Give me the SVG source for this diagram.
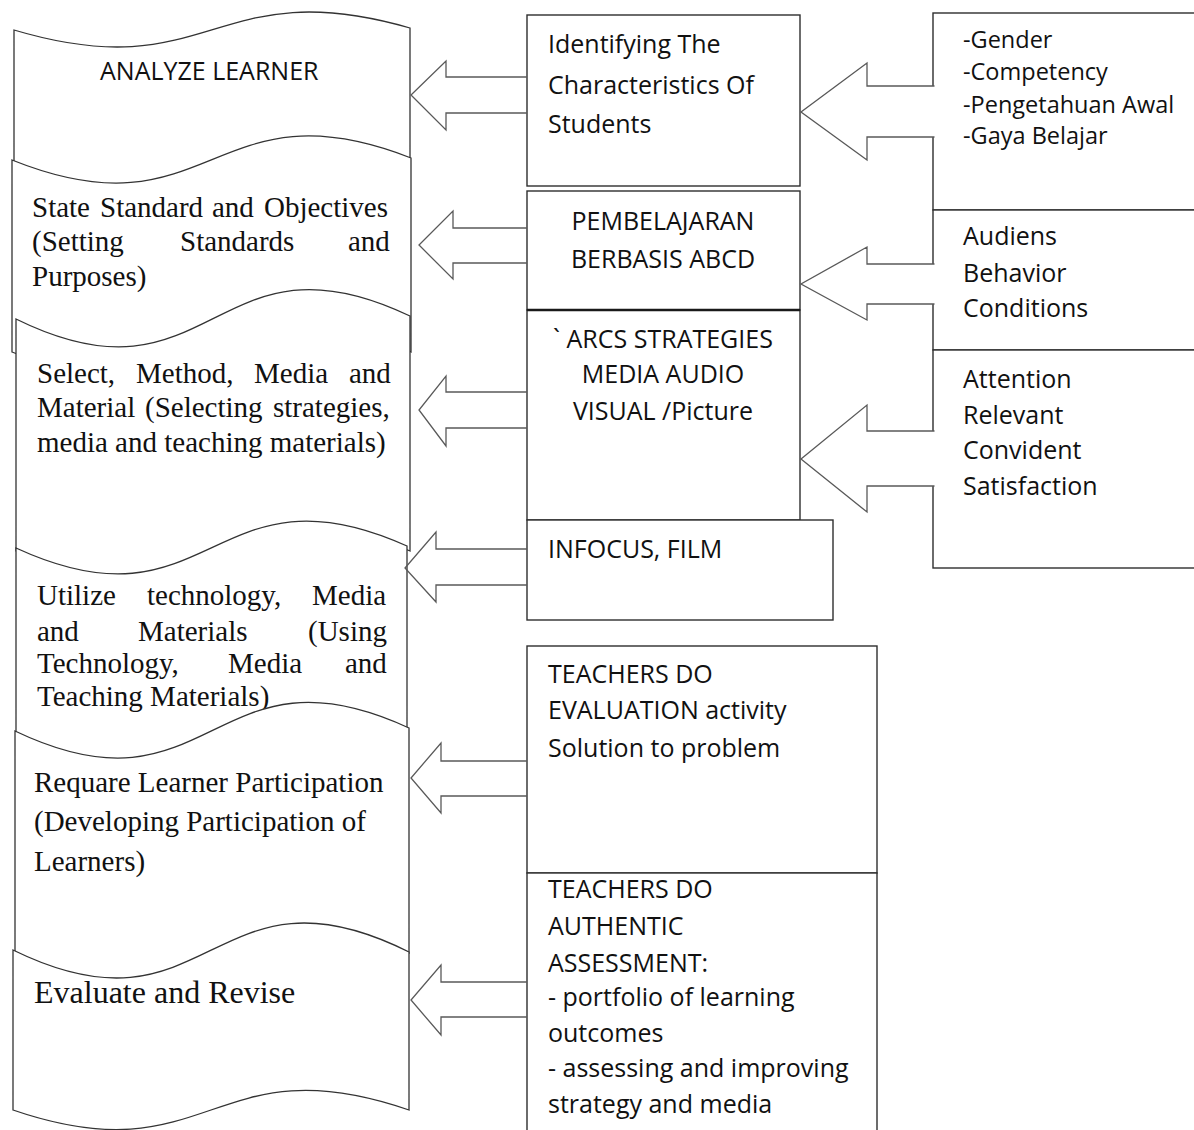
<svg xmlns="http://www.w3.org/2000/svg" width="1194" height="1130" viewBox="0 0 1194 1130">
<style>
.wave{fill:#fff;stroke:#333;stroke-width:1.3}
.box{fill:#fff;stroke:#2e2e2e;stroke-width:1.4}
.arr{fill:none;stroke:#595959;stroke-width:1.3;stroke-linejoin:miter}
.arrw{fill:#fff;stroke:#595959;stroke-width:1.3;stroke-linejoin:miter}
.ser{font-family:"Liberation Serif","Times New Roman",serif;font-size:29px;fill:#111}
.sans{font-family:"Open Sans","Noto Sans",sans-serif;font-size:25px;fill:#111}
.sm{font-size:23.5px}
.mid{text-anchor:middle}
</style>
<rect width="1194" height="1130" fill="#fff"/>

<g id="analyze-learner">
<path class="wave" d="M14,30 C212,89 212,-29 410,28 L410,164 C211.5,84 211.5,244 14,164 Z"/>
<text class="sans" x="100" y="80">ANALYZE LEARNER</text>
</g>

<g id="state-standard">
<path class="wave" d="M12,160 C211.5,240 211.5,80 411,158 L411,352 C211.5,272 211.5,432 12,352 Z"/>
<text class="ser" y="217"><tspan x="32">State</tspan><tspan x="100">Standard</tspan><tspan x="212">and</tspan><tspan x="264">Objectives</tspan></text>
<text class="ser" y="251"><tspan x="32">(Setting</tspan><tspan x="180">Standards</tspan><tspan x="348">and</tspan></text>
<text class="ser" x="32" y="286">Purposes)</text>
</g>

<g id="select-method">
<path class="wave" d="M16,319 C213,416 213,222 410,316 L410,551 C211.5,461 211.5,641 16,551 Z"/>
<text class="ser" y="383"><tspan x="37">Select,</tspan><tspan x="136">Method,</tspan><tspan x="254">Media</tspan><tspan x="349">and</tspan></text>
<text class="ser" y="417"><tspan x="37">Material</tspan><tspan x="145">(Selecting</tspan><tspan x="273">strategies,</tspan></text>
<text class="ser" x="37" y="452">media and teaching materials)</text>
</g>

<g id="utilize-technology">
<path class="wave" d="M16,548 C211.5,638 211.5,458 407,546 L407,734 C212,640 212,828 16,734 Z"/>
<text class="ser" y="605"><tspan x="37">Utilize</tspan><tspan x="147">technology,</tspan><tspan x="312">Media</tspan></text>
<text class="ser" y="641"><tspan x="37">and</tspan><tspan x="138">Materials</tspan><tspan x="308">(Using</tspan></text>
<text class="ser" y="673"><tspan x="37">Technology,</tspan><tspan x="228">Media</tspan><tspan x="345">and</tspan></text>
<text class="ser" x="37" y="706">Teaching Materials)</text>
</g>

<g id="require-participation">
<path class="wave" d="M15,731 C212,825 212,637 409,728 L409,953 C211,856 211,1050 15,953 Z"/>
<text class="ser" x="34" y="792">Requare Learner Participation</text>
<text class="ser" x="34" y="831">(Developing Participation of</text>
<text class="ser" x="34" y="871">Learners)</text>
</g>

<g id="evaluate-revise">
<path class="wave" d="M13,950 C211,1047 211,853 409,952 L409,1110 C211,1042 211,1178 13,1110 Z"/>
<text class="ser" x="34" y="1003" style="font-size:32px">Evaluate and Revise</text>
</g>

<g id="characteristics">
<rect class="box" x="527" y="15" width="273" height="171"/>
<text class="sans" x="548" y="53">Identifying The</text>
<text class="sans" x="548" y="94">Characteristics Of</text>
<text class="sans" x="548" y="133">Students</text>
</g>

<g id="abcd">
<rect class="box" x="527" y="191" width="273" height="119"/>
<text class="sans mid" x="663" y="230">PEMBELAJARAN</text>
<text class="sans mid" x="663" y="268">BERBASIS ABCD</text>
</g>

<g id="arcs">
<rect class="box" x="527" y="310" width="273" height="210"/>
<line x1="527" y1="310" x2="800" y2="310" stroke="#1a1a1a" stroke-width="2.6"/>
<text class="sans mid" x="663" y="348">` ARCS STRATEGIES</text>
<text class="sans mid" x="663" y="383">MEDIA AUDIO</text>
<text class="sans mid" x="663" y="420">VISUAL /Picture</text>
</g>

<g id="infocus">
<rect class="box" x="527" y="520" width="306" height="100"/>
<text class="sans" x="548" y="558">INFOCUS, FILM</text>
</g>

<g id="evaluation-activity">
<rect class="box" x="527" y="646" width="350" height="227"/>
<text class="sans" x="548" y="683">TEACHERS DO</text>
<text class="sans" x="548" y="719">EVALUATION activity</text>
<text class="sans" x="548" y="757">Solution to problem</text>
</g>

<g id="authentic-assessment">
<rect class="box" x="527" y="873" width="350" height="270"/>
<text class="sans" x="548" y="898">TEACHERS DO</text>
<text class="sans" x="548" y="935">AUTHENTIC</text>
<text class="sans" x="548" y="972">ASSESSMENT:</text>
<text class="sans" x="548" y="1006">- portfolio of learning</text>
<text class="sans" x="548" y="1042">outcomes</text>
<text class="sans" x="548" y="1077">- assessing and improving</text>
<text class="sans" x="548" y="1113">strategy and media</text>
</g>

<g id="learner-traits">
<rect class="box" x="933" y="13" width="280" height="197"/>
<text class="sans sm" x="963" y="48">-Gender</text>
<text class="sans sm" x="963" y="80">-Competency</text>
<text class="sans sm" x="963" y="113">-Pengetahuan Awal</text>
<text class="sans sm" x="963" y="144">-Gaya Belajar</text>
</g>

<g id="abc-conditions">
<rect class="box" x="933" y="210" width="280" height="140"/>
<text class="sans" x="963" y="245">Audiens</text>
<text class="sans" x="963" y="282">Behavior</text>
<text class="sans" x="963" y="317">Conditions</text>
</g>

<g id="arcs-components">
<rect class="box" x="933" y="350" width="280" height="218"/>
<text class="sans" x="963" y="388">Attention</text>
<text class="sans" x="963" y="424">Relevant</text>
<text class="sans" x="963" y="459">Convident</text>
<text class="sans" x="963" y="495">Satisfaction</text>
</g>

<g id="connectors">
<path class="arr" d="M527,77 L446,77 L446,61 L411,95 L446,130 L446,113 L527,113"/>
<path class="arr" d="M527,228 L453,228 L453,211 L419,245 L453,279 L453,263 L527,263"/>
<path class="arr" d="M527,392 L446,392 L446,376 L419,410 L446,446 L446,428 L527,428"/>
<path class="arr" d="M527,549 L436,549 L436,532 L405,568 L436,602 L436,585 L527,585"/>
<path class="arr" d="M527,761 L441,761 L441,743 L411,778 L441,813 L441,796 L527,796"/>
<path class="arr" d="M527,982 L441,982 L441,965 L411,1000 L441,1035 L441,1017 L527,1017"/>
<path class="arrw" d="M934.5,86 L867,86 L867,63 L801,112 L867,160 L867,137 L934.5,137"/>
<path class="arrw" d="M934.5,264 L867,264 L867,247 L801,284 L867,320 L867,304 L934.5,304"/>
<path class="arrw" d="M934.5,431 L867,431 L867,405 L801,459 L867,512 L867,486 L934.5,486"/>
</g>
</svg>
